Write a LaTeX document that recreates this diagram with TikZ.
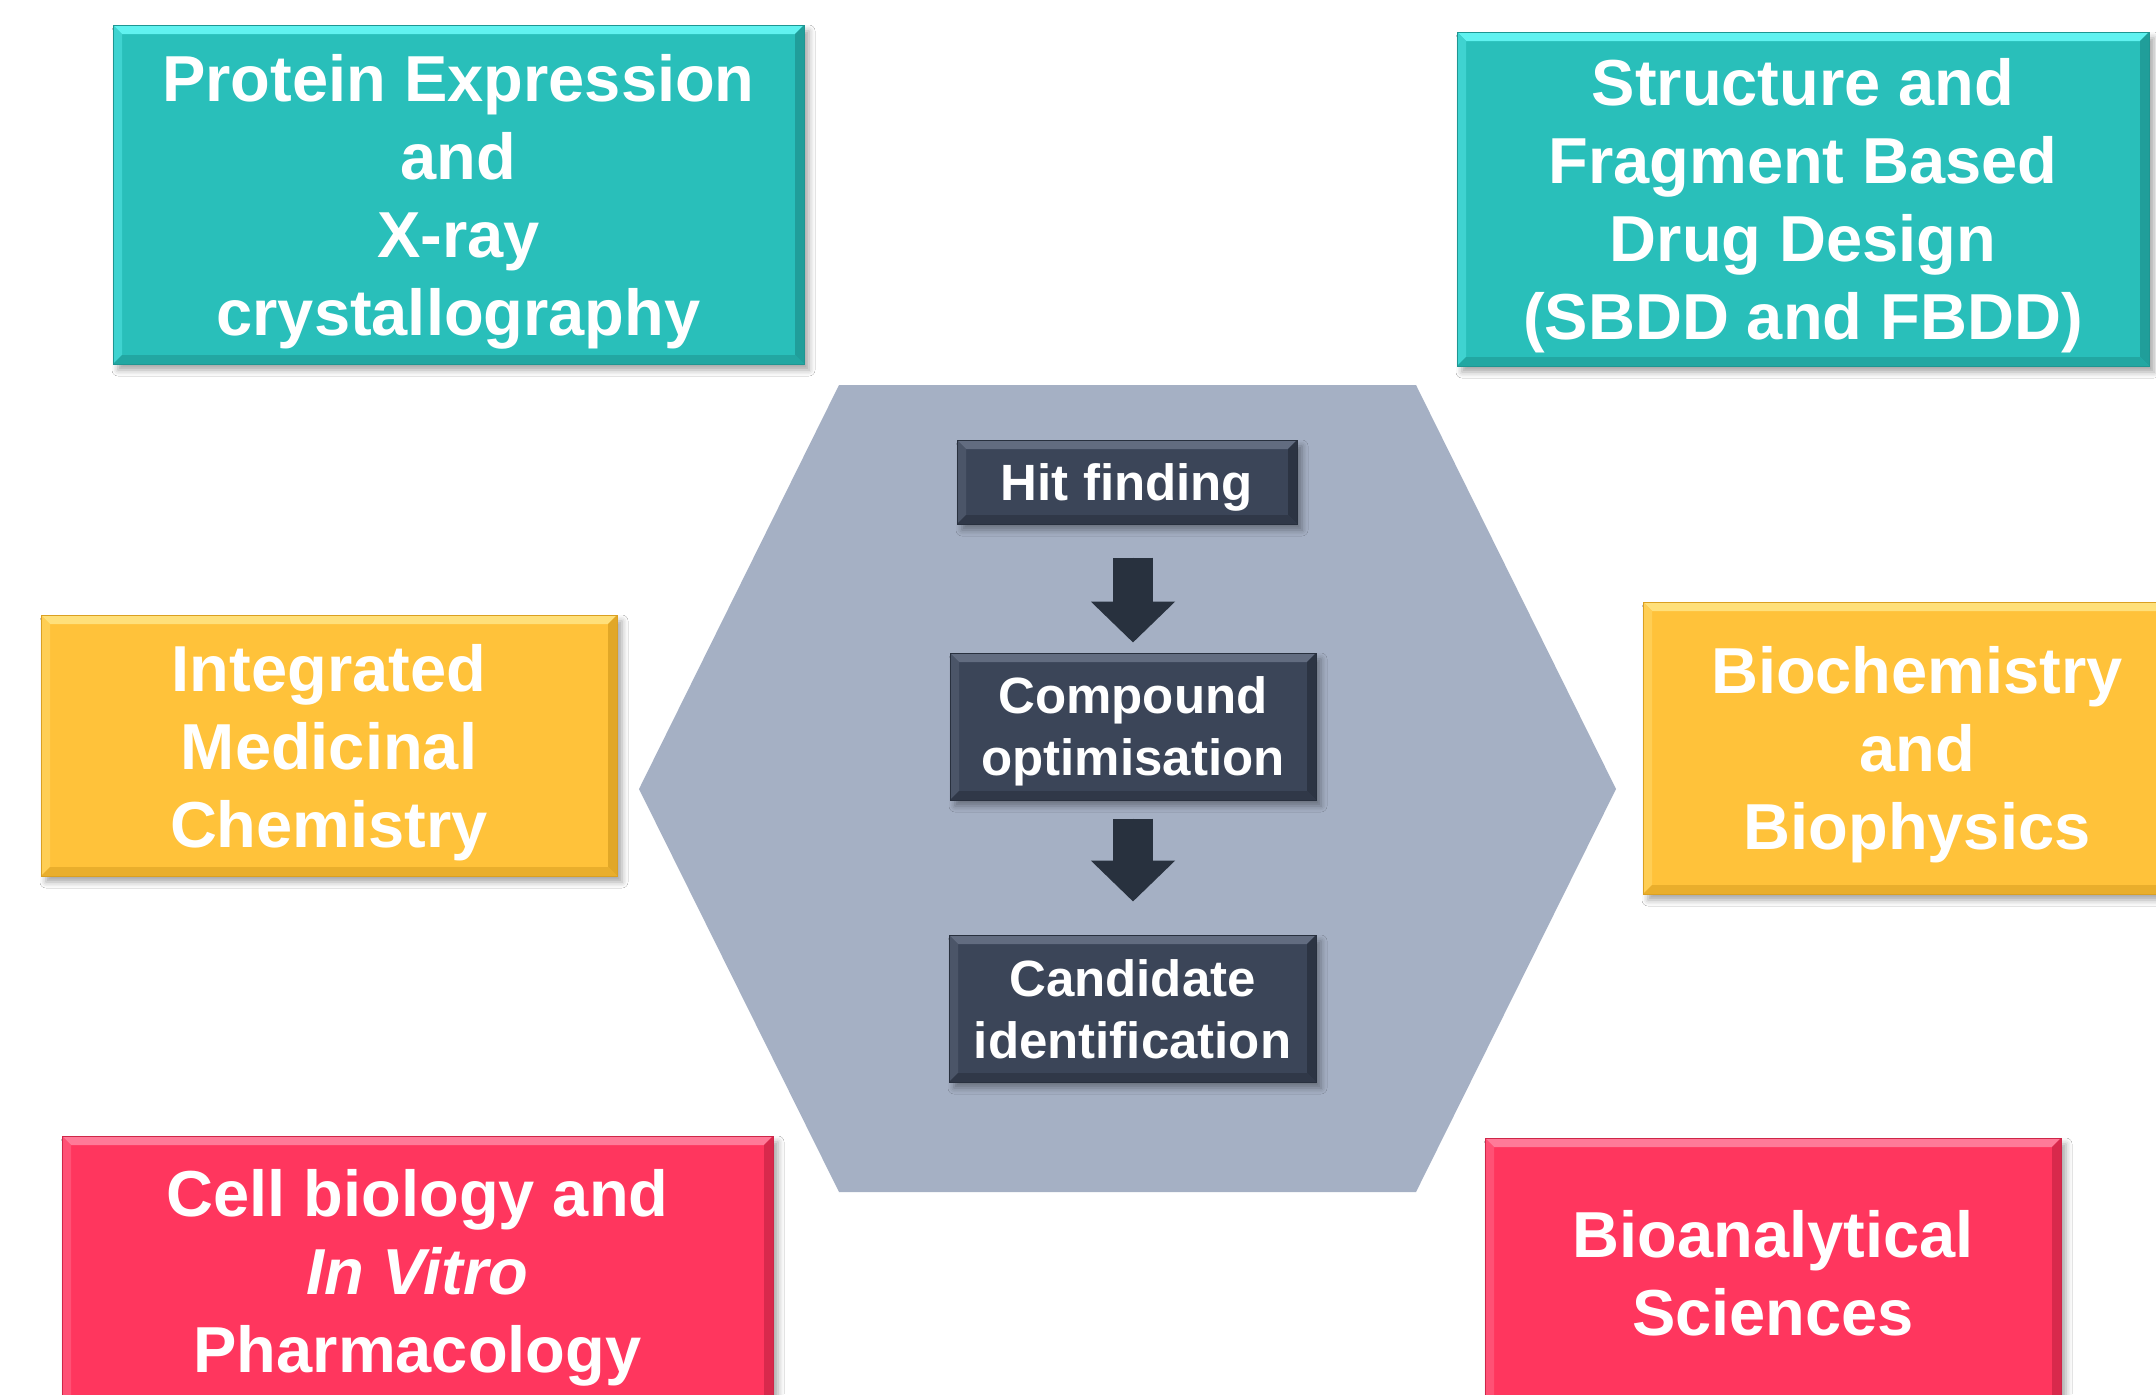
\documentclass[tikz,border=0pt]{standalone}
\usepackage{fontspec}
\setmainfont{Liberation Sans}
\usetikzlibrary{arrows.meta,shadows.blur}

\definecolor{tealbox}{RGB}{41,191,186}
\definecolor{teallight}{RGB}{96,242,240}
\definecolor{tealdark}{RGB}{30,150,146}
\definecolor{goldbox}{RGB}{255,194,58}
\definecolor{goldlight}{RGB}{255,224,122}
\definecolor{golddark}{RGB}{218,160,34}
\definecolor{rosebox}{RGB}{255,54,94}
\definecolor{roselight}{RGB}{255,122,152}
\definecolor{rosedark}{RGB}{206,38,72}
\definecolor{hexfill}{RGB}{165,176,196}
\definecolor{slatebox}{RGB}{59,69,88}
\definecolor{slatelight}{RGB}{98,108,128}
\definecolor{slatedark}{RGB}{40,48,62}
\definecolor{arrowfill}{RGB}{40,49,62}

\tikzset{
  % bevelled box: #1 face colour, #2 highlight, #3 shade
  bevelbox/.style n args={3}{
    fill=#1, draw=#3, line width=0.5pt, inner sep=0pt, align=center,
    text=white, text depth=0pt,
    blur shadow={shadow xshift=2.5pt, shadow yshift=-3pt,
                 shadow blur radius=3pt, shadow opacity=35},
    path picture={
      \def\bw{4.5pt}
      \fill[#2] (path picture bounding box.north west)
        -- (path picture bounding box.north east)
        -- ([xshift=-\bw,yshift=-\bw]path picture bounding box.north east)
        -- ([xshift=\bw,yshift=-\bw]path picture bounding box.north west) -- cycle;
      \fill[#2!40!#1] (path picture bounding box.north west)
        -- ([xshift=\bw,yshift=-\bw]path picture bounding box.north west)
        -- ([xshift=\bw,yshift=\bw]path picture bounding box.south west)
        -- (path picture bounding box.south west) -- cycle;
      \fill[#3!80!#1] (path picture bounding box.north east)
        -- ([xshift=-\bw,yshift=-\bw]path picture bounding box.north east)
        -- ([xshift=-\bw,yshift=\bw]path picture bounding box.south east)
        -- (path picture bounding box.south east) -- cycle;
      \fill[#3!60!#1] (path picture bounding box.south west)
        -- ([xshift=\bw,yshift=\bw]path picture bounding box.south west)
        -- ([xshift=-\bw,yshift=\bw]path picture bounding box.south east)
        -- (path picture bounding box.south east) -- cycle;
    }
  },
  areabox/.style={font=\fontsize{32.5}{39}\selectfont\bfseries},
  tealarea/.style={bevelbox={tealbox}{teallight}{tealdark}, areabox},
  goldarea/.style={bevelbox={goldbox}{goldlight}{golddark}, areabox},
  rosearea/.style={bevelbox={rosebox}{roselight}{rosedark}, areabox},
  stagebox/.style={bevelbox={slatebox}{slatelight}{slatedark},
    font=\fontsize{25.5}{31}\selectfont\bfseries},
  flowarrow/.style={draw=arrowfill, fill=arrowfill, line width=20pt,
    -{Triangle[width=41pt,length=20.5pt]}}
}

\begin{document}
\begin{tikzpicture}[x=0.5pt,y=-0.5pt]
  \useasboundingbox (0,0) rectangle (2156,1394);
  \fill[white] (0,0) rectangle (2156,1394);
  \clip (0,0) rectangle (2156,1394);

  % central hexagon
  \fill[hexfill] (839,385) -- (1416,385) -- (1616,789) -- (1416,1192)
    -- (839,1192) -- (639,789) -- cycle;

  % surrounding discipline boxes
  \node[tealarea, minimum width=345.5pt, minimum height=169.5pt] (protein)
    at (458.5,194.5) {Protein Expression\\and\\X-ray\\crystallography};
  \node[tealarea, minimum width=346pt, minimum height=167pt] (sbdd)
    at (1803,199) {Structure and\\Fragment Based\\Drug Design\\(SBDD and FBDD)};
  \node[goldarea, minimum width=288pt, minimum height=130.5pt] (medchem)
    at (329,745.5) {Integrated\\Medicinal\\Chemistry};
  \node[goldarea, minimum width=274pt, minimum height=146pt] (biochem)
    at (1917,748) {Biochemistry\\and\\Biophysics};
  \node[rosearea, minimum width=355.5pt, minimum height=135pt] (cellbio)
    at (417.5,1271) {Cell biology and\\\textit{In Vitro}\\Pharmacology};
  \node[rosearea, minimum width=288pt, minimum height=135pt] (bioanal)
    at (1773,1273) {Bioanalytical\\Sciences};

  % discovery stages
  \node[stagebox, minimum width=170pt, minimum height=42pt] (hit)
    at (1127,482) {Hit finding};
  \node[stagebox, minimum width=183pt, minimum height=73.5pt] (comp)
    at (1133,726.5) {Compound\\optimisation};
  \node[stagebox, minimum width=183.5pt, minimum height=73.5pt] (cand)
    at (1132.5,1008.5) {Candidate\\identification};

  \draw[flowarrow, shorten <=16.5pt, shorten >=5pt]
    (comp.north |- hit.south) -- (comp.north);
  \draw[flowarrow, shorten <=9pt, shorten >=16.5pt]
    (comp.south) -- (comp.south |- cand.north);
\end{tikzpicture}
\end{document}
